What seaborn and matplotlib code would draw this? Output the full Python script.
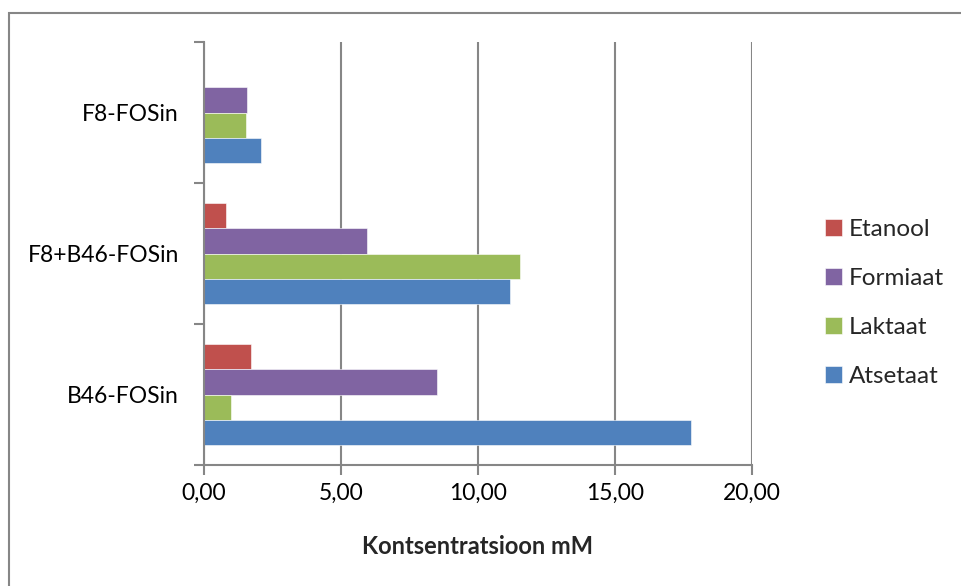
import matplotlib
matplotlib.use("Agg")
import matplotlib.pyplot as plt
from matplotlib.patches import Rectangle
from matplotlib.ticker import FuncFormatter, FixedLocator
import seaborn as sns
import pandas as pd

# Samples (top to bottom) and measured metabolites
samples = ["F8-FOSin", "F8+B46-FOSin", "B46-FOSin"]
metabolites = ["Etanool", "Formiaat", "Laktaat", "Atsetaat"]

# Concentrations (mM) per metabolite, in the order of `samples`
etanool = [0.00, 0.79, 1.72]
formiaat = [1.56, 5.96, 8.52]
laktaat = [1.53, 11.54, 0.98]
atsetaat = [2.08, 11.16, 17.79]

x_ticks = [0, 5, 10, 15, 20]
x_label = "Kontsentratsioon mM"

palette = {"Etanool": "#C0504D", "Formiaat": "#8064A2",
           "Laktaat": "#9BBB59", "Atsetaat": "#4F81BD"}

series = {"Etanool": etanool, "Formiaat": formiaat,
          "Laktaat": laktaat, "Atsetaat": atsetaat}
rows = []
for name in metabolites:
    for s, v in zip(samples, series[name]):
        rows.append({"Proov": s, "Aine": name, "mM": v})
df = pd.DataFrame(rows)

sns.set_style("white")
plt.rcParams["font.family"] = ["Lato", "DejaVu Sans"]

fig = plt.figure(figsize=(9.62, 5.86), dpi=100)
ax = fig.add_axes([204 / 962, 1 - 465 / 586, 548 / 962, 423 / 586])

sns.barplot(data=df, y="Proov", x="mM", hue="Aine", order=samples,
            hue_order=metabolites, palette=palette, orient="h",
            width=0.72, gap=0, saturation=1, ax=ax,
            edgecolor="white", linewidth=0.4)

grey = "#868686"
ax.set_xlim(0, 20)
ax.set_ylim(2.5, -0.5)
ax.set_xticks(x_ticks)
ax.xaxis.set_major_formatter(FuncFormatter(lambda v, p: f"{v:.2f}".replace(".", ",")))
ax.grid(axis="x", color=grey, linewidth=1.5)
ax.grid(axis="y", visible=False)
ax.set_axisbelow(True)

# Category boundaries carry the ticks; names sit at the centres
ax.yaxis.set_major_locator(FixedLocator([-0.5, 0.5, 1.5, 2.5]))
ax.yaxis.set_minor_locator(FixedLocator([0, 1, 2]))
ax.set_yticklabels([], minor=False)
ax.set_yticklabels(samples, minor=True)
ax.tick_params(axis="y", which="major", length=7, width=1.5, color=grey, direction="out", left=True)
ax.tick_params(axis="y", which="minor", length=0, pad=18, labelsize=16.5, labelcolor="black")
ax.tick_params(axis="x", which="major", length=7, width=1.5, color=grey, direction="out",
               bottom=True, pad=6, labelsize=16.5, labelcolor="black")

for side in ["top", "right"]:
    ax.spines[side].set_visible(False)
for side in ["left", "bottom"]:
    ax.spines[side].set_color(grey)
    ax.spines[side].set_linewidth(1.5)

ax.set_ylabel("")
ax.set_xlabel(x_label, fontsize=17, fontweight="bold", labelpad=22)

handles, labels = ax.get_legend_handles_labels()
if ax.legend_:
    ax.legend_.remove()
fig.legend(handles, labels, loc="upper left", bbox_to_anchor=(815 / 962, 1 - 209 / 586),
           frameon=False, fontsize=17.5, handlelength=0.7, handleheight=0.7,
           handletextpad=0.3, labelspacing=1.16, borderaxespad=0)

# Chart-area frame
fig.patches.append(Rectangle((9 / 962, -0.05), 1.0, 1 - 13 / 586 + 0.05,
                             transform=fig.transFigure, fill=False,
                             edgecolor=grey, linewidth=1.5))

fig.savefig("out.png", dpi=100)
